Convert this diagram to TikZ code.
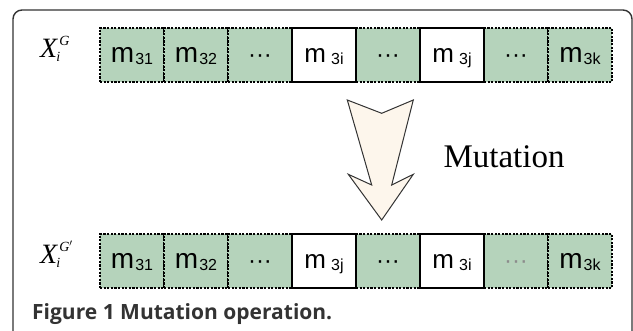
\documentclass[tikz,border=0pt]{standalone}
\usepackage{fontspec}
\setmainfont{Liberation Serif}
\setsansfont{Liberation Sans}
\newfontfamily\capfont{Open Sans}
\definecolor{cellgreen}{RGB}{181,211,187}
\definecolor{arrowfill}{RGB}{253,246,236}
\definecolor{framegray}{RGB}{51,51,51}
\newcommand\mcell[3]{{\fontsize{#1}{#1}\selectfont m}\hspace{#2}\raisebox{-1.5pt}{\fontsize{16}{16}\selectfont #3}}
\newcommand\cdotsx{{\fontsize{24}{24}\selectfont ···}}
\newcommand\xlab[1]{\fontsize{28}{28}\selectfont\itshape X\rlap{\hspace{2pt}\raisebox{12pt}{\fontsize{14}{14}\selectfont #1}}\hspace{-1pt}\raisebox{-4pt}{\fontsize{14}{14}\selectfont i}}
\begin{document}
\begin{tikzpicture}[x=1pt,y=-1pt,
  cellbase/.style={minimum width=64pt,minimum height=54pt,inner sep=0pt,
    text height=18pt,text depth=2pt,font=\sffamily},
  gcell/.style={cellbase,fill=cellgreen,draw=black,line width=1.1pt,dash pattern=on 2.2pt off 1.4pt},
  wcell/.style={cellbase,fill=white,draw=black,line width=1.1pt}]
\useasboundingbox (0,0) rectangle (633,331);
\begin{scope}
\clip (0,0) rectangle (633,331);
\draw[framegray,line width=1.4pt,rounded corners=9pt] (13,10) rectangle (632,360);
\end{scope}
% top row
\node[gcell] (t1) at (132,55) {\mcell{28}{1pt}{31}};
\node[gcell] (t2) at (196,55) {\mcell{28}{1pt}{32}};
\node[gcell] (t3) at (260,55) {\cdotsx};
\node[gcell] (t5) at (388,55) {\cdotsx};
\node[gcell] (t7) at (516,55) {\cdotsx};
\node[gcell] (t8) at (580,55) {\mcell{28}{1pt}{3k}};
\node[wcell] (t4) at (324,55) {\mcell{26}{5pt}{3i}};
\node[wcell] (t6) at (452,55) {\mcell{26}{5pt}{3j}};
% bottom row
\node[gcell] (b1) at (132,261) {\mcell{28}{1pt}{31}};
\node[gcell] (b2) at (196,261) {\mcell{28}{1pt}{32}};
\node[gcell] (b3) at (260,261) {\cdotsx};
\node[gcell] (b5) at (388,261) {\cdotsx};
\node[gcell,text=black!45] (b7) at (516,261) {\cdotsx};
\node[gcell] (b8) at (580,261) {\mcell{28}{1pt}{3k}};
\node[wcell] (b4) at (324,261) {\mcell{26}{5pt}{3j}};
\node[wcell] (b6) at (452,261) {\mcell{26}{5pt}{3i}};
% labels
\node[anchor=base west,inner sep=0pt] (xt) at (40,58) {\xlab{G}};
\node[anchor=base west,inner sep=0pt] (xb) at (40,264) {\xlab{G$'$}};
% arrow
\draw[fill=arrowfill,draw=framegray,line width=1pt,line join=miter]
  (347.3,100) -- (381.7,113.3) -- (413.3,100) -- (391.7,185) -- (413.3,174.3)
  -- (381.7,220) -- (348.3,174.3) -- (371.7,185) -- cycle;
\node (mut) at (504,157) {\fontsize{33}{33}\selectfont Mutation};
\node[anchor=base west,text=framegray,inner sep=0pt] (cap) at (32,320)
  {\capfont\bfseries\fontsize{21}{21}\selectfont Figure 1 Mutation operation.};
\end{tikzpicture}
\end{document}
